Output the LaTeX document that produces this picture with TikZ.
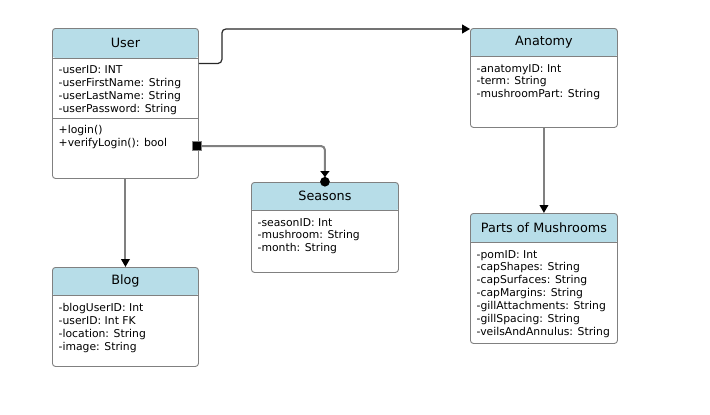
\documentclass[tikz,border=0pt]{standalone}
\usepackage{fontspec}
\setmainfont{DejaVu Sans}
\usetikzlibrary{positioning}
\usetikzlibrary{calc}
\usetikzlibrary{arrows.meta}
\definecolor{headblue}{RGB}{183,221,232}
\definecolor{edgegray}{RGB}{128,128,128}
\definecolor{darkline}{RGB}{40,40,40}

\begin{document}
\begin{tikzpicture}[x=1pt, y=-1pt,
  classbox/.style={draw=edgegray, line width=0.9pt, rounded corners=3pt,
    anchor=north west, inner sep=0pt,
    path picture={
      \fill[headblue] (path picture bounding box.north west)
        rectangle ([yshift=-#1]path picture bounding box.north east);
      \draw[edgegray, line width=0.9pt] ([yshift=-#1]path picture bounding box.north west)
        -- ([yshift=-#1]path picture bounding box.north east);}},
  classtitle/.style={font=\fontsize{12.8}{15}\selectfont, inner sep=0pt},
  attrs/.style={font=\fontsize{10.8}{12.9}\selectfont, align=left,
    anchor=north west, inner sep=0pt},
  link/.style={draw=edgegray, line width=2pt},
  tip/.style={-{Triangle[length=8pt, width=8.5pt, color=black]}}]

% background and page size
\fill[white] (0,0) rectangle (710,415);
\useasboundingbox (0,0) rectangle (710,415);

%---------------------------------------
% Classes
%---------------------------------------

% ---- User ----
\node[classbox=29.5pt, minimum width=146pt, minimum height=150pt] (user) at (52,28) {};
\node[classtitle] (usertitle) at ([yshift=-14.75pt]user.north) {User};
\node[attrs] (userattrs) at ([xshift=6.5pt, yshift=-37.5pt]user.north west)
  {-userID: INT\\-userFirstName: String\\-userLastName: String\\-userPassword: String};
\draw[edgegray, line width=0.9pt] ([yshift=-90.7pt]user.north west) -- ([yshift=-90.7pt]user.north east);
\node[attrs] (usermethods) at ([xshift=6.5pt, yshift=-97pt]user.north west)
  {+login()\\+verifyLogin(): bool};

% ---- Anatomy ----
\node[classbox=28pt, minimum width=147pt, minimum height=99pt] (anatomy) at (470,28) {};
\node[classtitle] (anatomytitle) at ([yshift=-14pt]anatomy.north) {Anatomy};
\node[attrs] (anatomyattrs) at ([xshift=6.5pt, yshift=-36pt]anatomy.north west)
  {-anatomyID: Int\\-term: String\\-mushroomPart: String};

% ---- Seasons ----
\node[classbox=28pt, minimum width=147pt, minimum height=90pt] (seasons) at (251,182) {};
\node[classtitle] (seasonstitle) at ([yshift=-14pt]seasons.north) {Seasons};
\node[attrs] (seasonsattrs) at ([xshift=6.5pt, yshift=-36pt]seasons.north west)
  {-seasonID: Int\\-mushroom: String\\-month: String};

% ---- Blog ----
\node[classbox=28pt, minimum width=146pt, minimum height=99pt] (blog) at (52,267) {};
\node[classtitle] (blogtitle) at ([yshift=-14pt]blog.north) {Blog};
\node[attrs] (blogattrs) at ([xshift=6.5pt, yshift=-36pt]blog.north west)
  {-blogUserID: Int\\-userID: Int FK\\-location: String\\-image: String};

% ---- Parts of Mushrooms ----
\node[classbox=29pt, minimum width=147pt, minimum height=130pt] (parts) at (470,213) {};
\node[classtitle] (partstitle) at ([yshift=-14.5pt]parts.north) {Parts of Mushrooms};
\node[attrs] (partsattrs) at ([xshift=6.5pt, yshift=-37pt]parts.north west)
  {-pomID: Int\\-capShapes: String\\-capSurfaces: String\\-capMargins: String\\
   -gillAttachments: String\\-gillSpacing: String\\-veilsAndAnnulus: String};

%---------------------------------------
% Connectors
%---------------------------------------
\draw[darkline, line width=1.2pt, rounded corners=4pt, -{Triangle[length=8pt, width=9pt, color=black]}]
  ([yshift=-35.5pt]user.north east) -- ++(23,0) |- ([yshift=-1pt]anatomy.north west);

\draw[link, tip] (user.south) -- (blog.north);
\draw[link, tip] (anatomy.south) -- (parts.north);

\node[draw=edgegray, fill=black, line width=0.8pt, minimum size=9pt, inner sep=0pt] (sq) at (196.7,146) {};
\draw[link, rounded corners=4pt, shorten >=-4.5pt,
  -{Triangle[length=6pt, width=9pt, color=black] Circle[length=9.5pt, color=black]}]
  (sq.east) -| (seasons.north);

\end{tikzpicture}
\end{document}
